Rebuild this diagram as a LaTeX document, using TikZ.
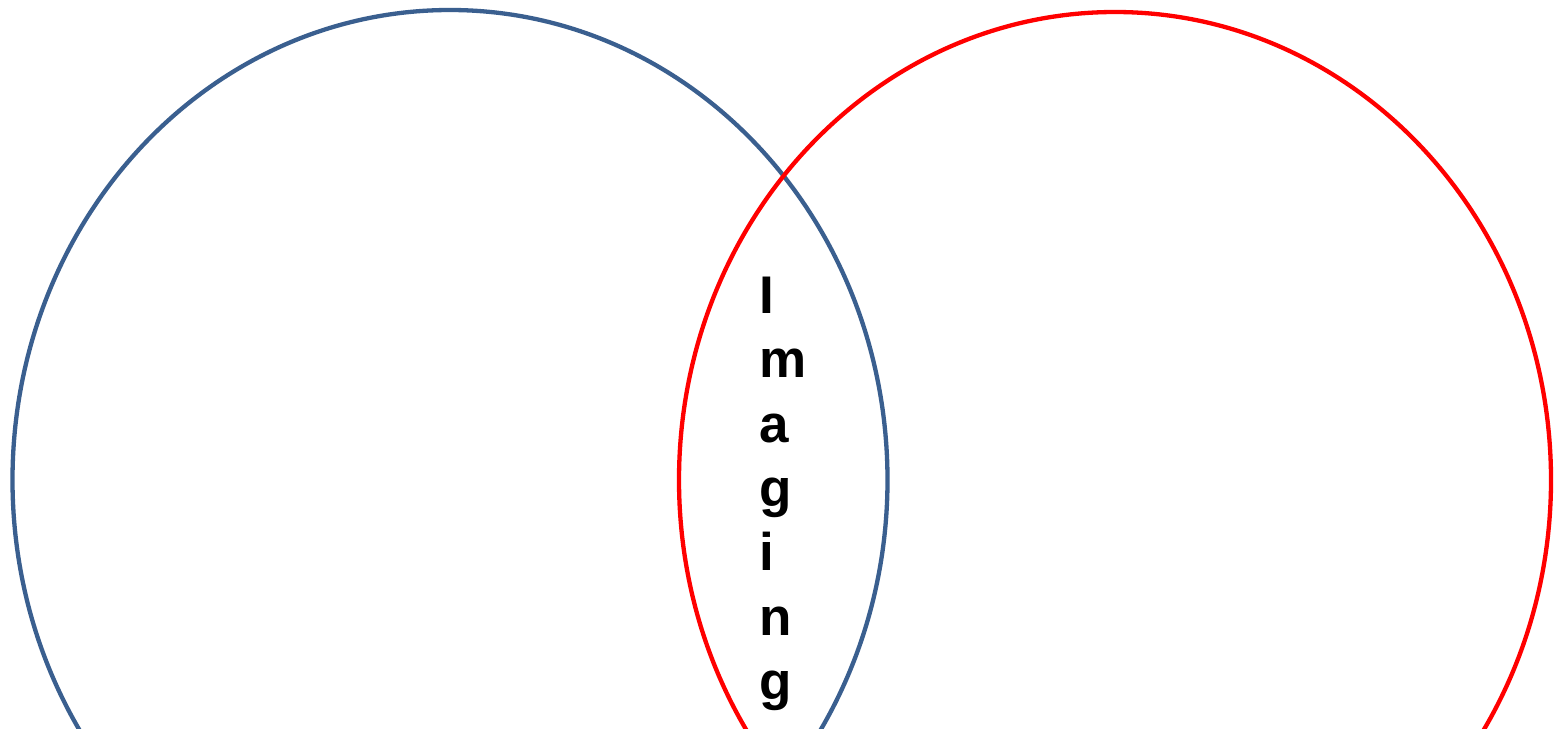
\documentclass[tikz,border=0pt]{standalone}
\usepackage{fontspec}
\setmainfont{Liberation Sans}
\definecolor{setblue}{HTML}{3A5F8F}
\definecolor{setred}{HTML}{FF0000}
\begin{document}
\begin{tikzpicture}[x=1pt,y=-1pt,
  setline/.style={line width=4.3pt},
  letter/.style={anchor=base west,inner sep=0pt,font=\fontsize{53}{64}\selectfont\bfseries}]
\useasboundingbox (0,0) rectangle (1554,728);
\clip (0,0) rectangle (1554,728);
\fill[white] (0,0) rectangle (1554,728);
\draw[setline,setblue] (450,480) ellipse [x radius=437.5, y radius=470];
\draw[setline,setred] (1115,480) ellipse [x radius=436, y radius=468];
\foreach \ch/\yy [count=\i] in {I/313,m/377.5,a/442,g/506,i/570.5,n/635,g/699}
  \node[letter] (l\i) at (759,\yy) {\ch};
\end{tikzpicture}
\end{document}
